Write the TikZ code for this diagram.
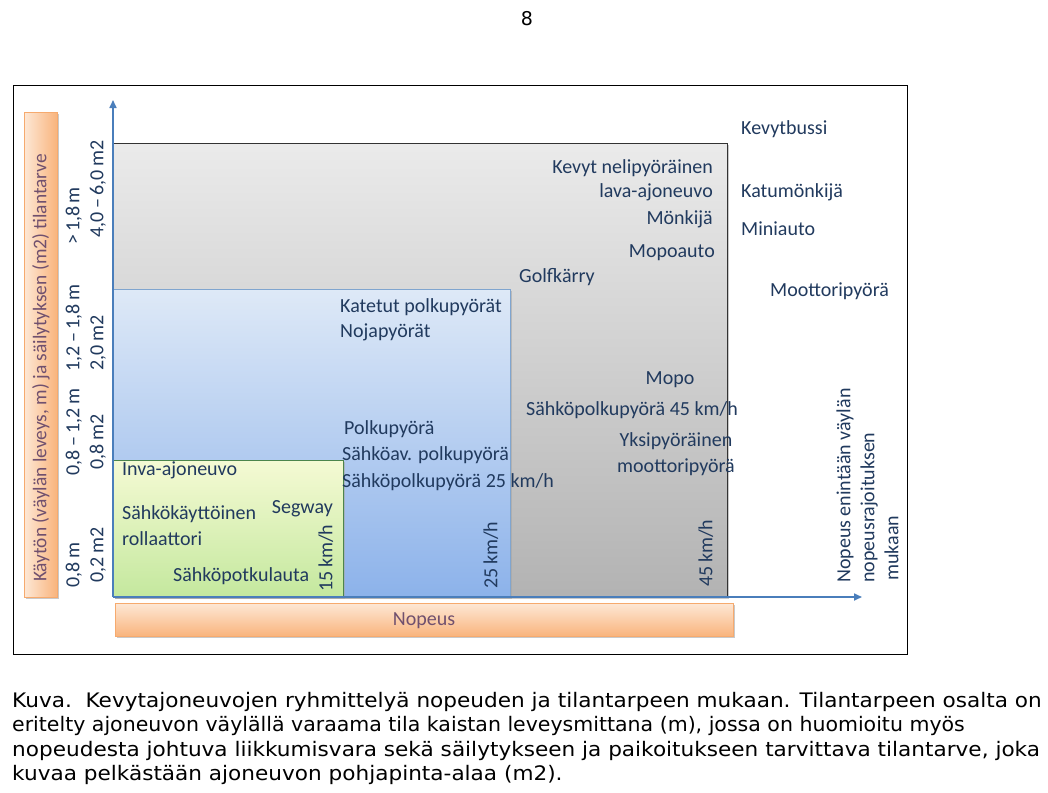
\documentclass[tikz,border=0pt]{standalone}
\usepackage{fontspec}
\setmainfont{Carlito}
\newfontfamily\capfont[FakeStretch=1.08]{DejaVu Sans}
\newfontfamily\capfontb[FakeStretch=1.025]{DejaVu Sans}
\newfontfamily\numfont{DejaVu Sans}
\usetikzlibrary{arrows.meta,shadows}
\definecolor{txt}{HTML}{213A5E}
\definecolor{axisblue}{HTML}{4A7EBB}
\definecolor{ortxt}{HTML}{70506E}
\tikzset{
  lbl/.style={inner sep=0pt, text=txt, font=\fontsize{20}{24}\selectfont},
  rlbl/.style={lbl, rotate=90},
  axl/.style={-{Triangle[length=8pt,width=7pt]}, draw=axisblue, line width=1.6pt},
  capline/.style={inner sep=0pt, anchor=base west, font=\capfont\fontsize{20}{24}\selectfont},
  shd/.style={drop shadow={shadow xshift=1.5pt, shadow yshift=-2pt, fill=black!35, opacity=0.6}},
}
\begin{document}
\begin{tikzpicture}[x=1pt,y=1pt]
\useasboundingbox (0,-792) rectangle (1048,0);
\fill[white] (0,-792) rectangle (1048,0);

\node[inner sep=0pt, font=\numfont\fontsize{19}{22}\selectfont] (pagenum) at (527,-19) {8};

% frame
\draw[line width=1pt, black] (13,-85) rectangle (907,-654);

% boxes
\path[shd, draw=black!80, line width=1pt, top color=black!8, bottom color=black!30] (113,-143) rectangle (727,-597);
\path[shd, draw=axisblue!70, line width=1pt, top color={rgb,255:red,222;green,233;blue,247}, bottom color={rgb,255:red,140;green,178;blue,234}] (113,-289) rectangle (510,-597);
\path[shd, draw=black!45!green!40!gray, line width=1pt, top color={rgb,255:red,245;green,250;blue,212}, bottom color={rgb,255:red,196;green,232;blue,158}] (113,-460) rectangle (343,-597);

% orange boxes
\path[shd, draw={rgb,255:red,246;green,170;blue,110}, line width=0.8pt, left color={rgb,255:red,253;green,232;blue,214}, right color={rgb,255:red,249;green,180;blue,125}] (24,-112) rectangle (57,-597);
\path[shd, draw={rgb,255:red,246;green,170;blue,110}, line width=0.8pt, top color={rgb,255:red,253;green,232;blue,214}, bottom color={rgb,255:red,249;green,180;blue,125}] (115,-603) rectangle (733,-636);

\node[inner sep=0pt, rotate=90, text=ortxt, font=\fontsize{19.4}{23}\selectfont, anchor=mid] (ytitle) at (44,-368) {Käytön (väylän leveys, m) ja säilytyksen (m2) tilantarve};
\node[inner sep=0pt, text=ortxt, font=\fontsize{20}{24}\selectfont, anchor=mid] (xtitle) at (424,-623) {Nopeus};

% axes
\coordinate (O) at (113,-597);
\coordinate (Ytop) at (113,-100);
\coordinate (Xend) at (862,-597);
\draw[axl] (O) -- (Ytop);
\draw[axl] (O) -- (Xend);

% left axis labels
\node[rlbl, anchor=mid] (w4) at (77,-216) {>\,1,8\,m};
\node[rlbl, anchor=mid] (a4) at (101,-189) {4,0\,–\,6,0\,m2};
\node[rlbl, anchor=mid] (w3) at (77,-328) {1,2\,–\,1,8\,m};
\node[rlbl, anchor=mid] (a3) at (101,-343) {2,0\,m2};
\node[rlbl, anchor=mid] (w2) at (77,-432) {0,8\,–\,1,2\,m};
\node[rlbl, anchor=mid] (a2) at (101,-442) {0,8\,m2};
\node[rlbl, anchor=mid] (w1) at (77,-565) {0,8\,m};
\node[rlbl, anchor=mid] (a1) at (101,-555) {0,2\,m2};

% speed labels
\node[rlbl, anchor=mid] (s15) at (330,-558) {15\,km/h};
\node[rlbl, anchor=mid] (s25) at (495,-555) {25\,km/h};
\node[rlbl, anchor=mid] (s45) at (710,-553) {45\,km/h};

% right note
\node[rlbl, anchor=mid west] (n1) at (848,-583) {Nopeus enintään väylän};
\node[rlbl, anchor=mid west] (n2) at (872,-583) {nopeusrajoituksen};
\node[rlbl, anchor=mid west] (n3) at (896,-581) {mukaan};

% outside gray box
\node[lbl, anchor=mid west] (kb) at (741,-132) {Kevytbussi};
\node[lbl, anchor=mid west] (km) at (741,-195) {Katumönkijä};
\node[lbl, anchor=mid west] (ma) at (741,-233) {Miniauto};
\node[lbl, anchor=mid west] (mp) at (770,-294) {Moottoripyörä};

% gray box
\node[lbl, anchor=mid east] (kn) at (713,-171) {Kevyt nelipyöräinen};
\node[lbl, anchor=mid east] (la) at (713,-195) {lava-ajoneuvo};
\node[lbl, anchor=mid east] (mo) at (713,-222) {Mönkijä};
\node[lbl, anchor=mid east] (mpa) at (715,-255) {Mopoauto};
\node[lbl, anchor=mid west] (gk) at (519,-280) {Golfkärry};
\node[lbl, anchor=mid] (mopo) at (670,-382) {Mopo};
\node[lbl, anchor=mid west] (sp45) at (526,-413) {Sähköpolkupyörä 45 km/h};
\node[lbl, anchor=mid] (yp) at (676,-444) {Yksipyöräinen};
\node[lbl, anchor=mid] (ymp) at (676,-470) {moottoripyörä};

% blue box
\node[lbl, anchor=mid west] (kp) at (340,-310) {Katetut polkupyörät};
\node[lbl, anchor=mid west] (np) at (340,-335) {Nojapyörät};
\node[lbl, anchor=mid west] (pp) at (344,-432) {Polkupyörä};
\node[lbl, anchor=mid west] (sap) at (342,-458) {Sähköav. polkupyörä};
\node[lbl, anchor=mid west] (sp25) at (342,-485) {Sähköpolkupyörä 25 km/h};

% green box
\node[lbl, anchor=mid west] (inva) at (122,-473) {Inva-ajoneuvo};
\node[lbl, anchor=mid west] (sk) at (122,-517) {Sähkökäyttöinen};
\node[lbl, anchor=mid west] (rol) at (122,-543) {rollaattori};
\node[lbl, anchor=mid east] (seg) at (333,-511) {Segway};
\node[lbl, anchor=mid west] (spl) at (173,-579) {Sähköpotkulauta};

% caption
\node[capline] (c1) at (12,-707) {Kuva.\ \ Kevytajoneuvojen ryhmittelyä nopeuden ja tilantarpeen mukaan. Tilantarpeen osalta on};
\node[capline, font=\capfontb\fontsize{20}{24}\selectfont] (c2) at (12,-731.5) {eritelty ajoneuvon väylällä varaama tila kaistan leveysmittana (m), jossa on huomioitu myös};
\node[capline] (c3) at (12,-756) {nopeudesta johtuva liikkumisvara sekä säilytykseen ja paikoitukseen tarvittava tilantarve, joka};
\node[capline] (c4) at (12,-780.5) {kuvaa pelkästään ajoneuvon pohjapinta-alaa (m2).};
\end{tikzpicture}
\end{document}
